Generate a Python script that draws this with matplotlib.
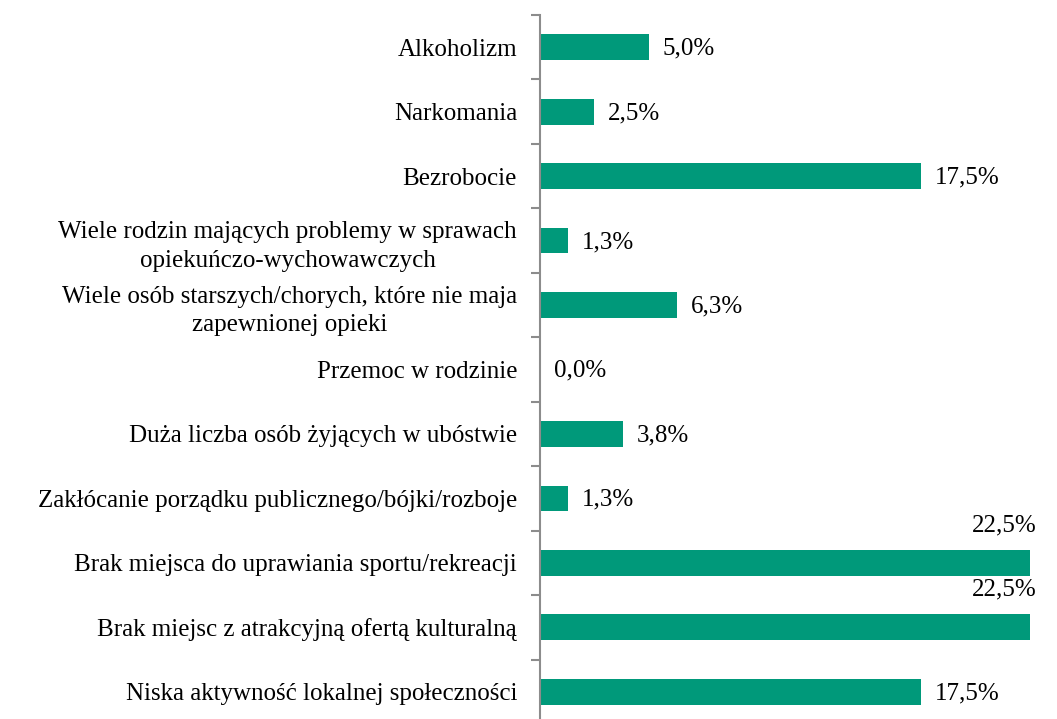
import matplotlib as mpl
mpl.use('Agg')
import matplotlib.pyplot as plt

categories = [
    "Alkoholizm",
    "Narkomania",
    "Bezrobocie",
    "Wiele rodzin mających problemy w sprawach\nopiekuńczo-wychowawczych",
    "Wiele osób starszych/chorych, które nie maja\nzapewnionej opieki",
    "Przemoc w rodzinie",
    "Duża liczba osób żyjących w ubóstwie",
    "Zakłócanie porządku publicznego/bójki/rozboje",
    "Brak miejsca do uprawiania sportu/rekreacji",
    "Brak miejsc z atrakcyjną ofertą kulturalną",
    "Niska aktywność lokalnej społeczności",
]
values = [5.0, 2.5, 17.5, 1.3, 6.3, 0.0, 3.8, 1.3, 22.5, 22.5, 17.5]

BAR_COLOR = '#00997a'
FONT = 'Liberation Serif'
FS = 18

fig = plt.figure(figsize=(10.57, 7.19), dpi=100)
ax = fig.add_axes([540 / 1057, -5 / 719, 490 / 1057, 709 / 719])

pos = list(range(len(categories)))
ax.barh(pos, values, height=0.4, color=BAR_COLOR)
ax.set_xlim(0, 22.5)
ax.set_ylim(len(categories) - 0.5, -0.5)

for spine in ['top', 'right', 'bottom']:
    ax.spines[spine].set_visible(False)
ax.spines['left'].set_color('#8c8c8c')
ax.spines['left'].set_linewidth(1.5)
ax.set_xticks([])

# category names on the major ticks, boundary ticks as minor ones
ax.set_yticks(pos)
ax.set_yticklabels(categories, fontsize=FS, family=FONT)
for lbl in ax.get_yticklabels():
    lbl.set_multialignment('center')
    lbl.set_linespacing(1.4)
ax.tick_params(axis='y', which='major', length=0, pad=16.5)
ax.set_yticks([p - 0.5 for p in pos] + [len(pos) - 0.5], minor=True)
ax.tick_params(axis='y', which='minor', length=6.5, width=1.5, color='#8c8c8c')

for p, v in zip(pos, values):
    txt = ("%.1f%%" % v).replace('.', ',')
    if v >= 22.5:
        ax.annotate(txt, (v, p), xytext=(5, 27), textcoords='offset points',
                    ha='right', va='center', fontsize=FS, family=FONT,
                    annotation_clip=False)
    else:
        ax.annotate(txt, (v, p), xytext=(10, -1), textcoords='offset points',
                    ha='left', va='center', fontsize=FS, family=FONT,
                    annotation_clip=False)

fig.savefig('out.png', dpi=100)
